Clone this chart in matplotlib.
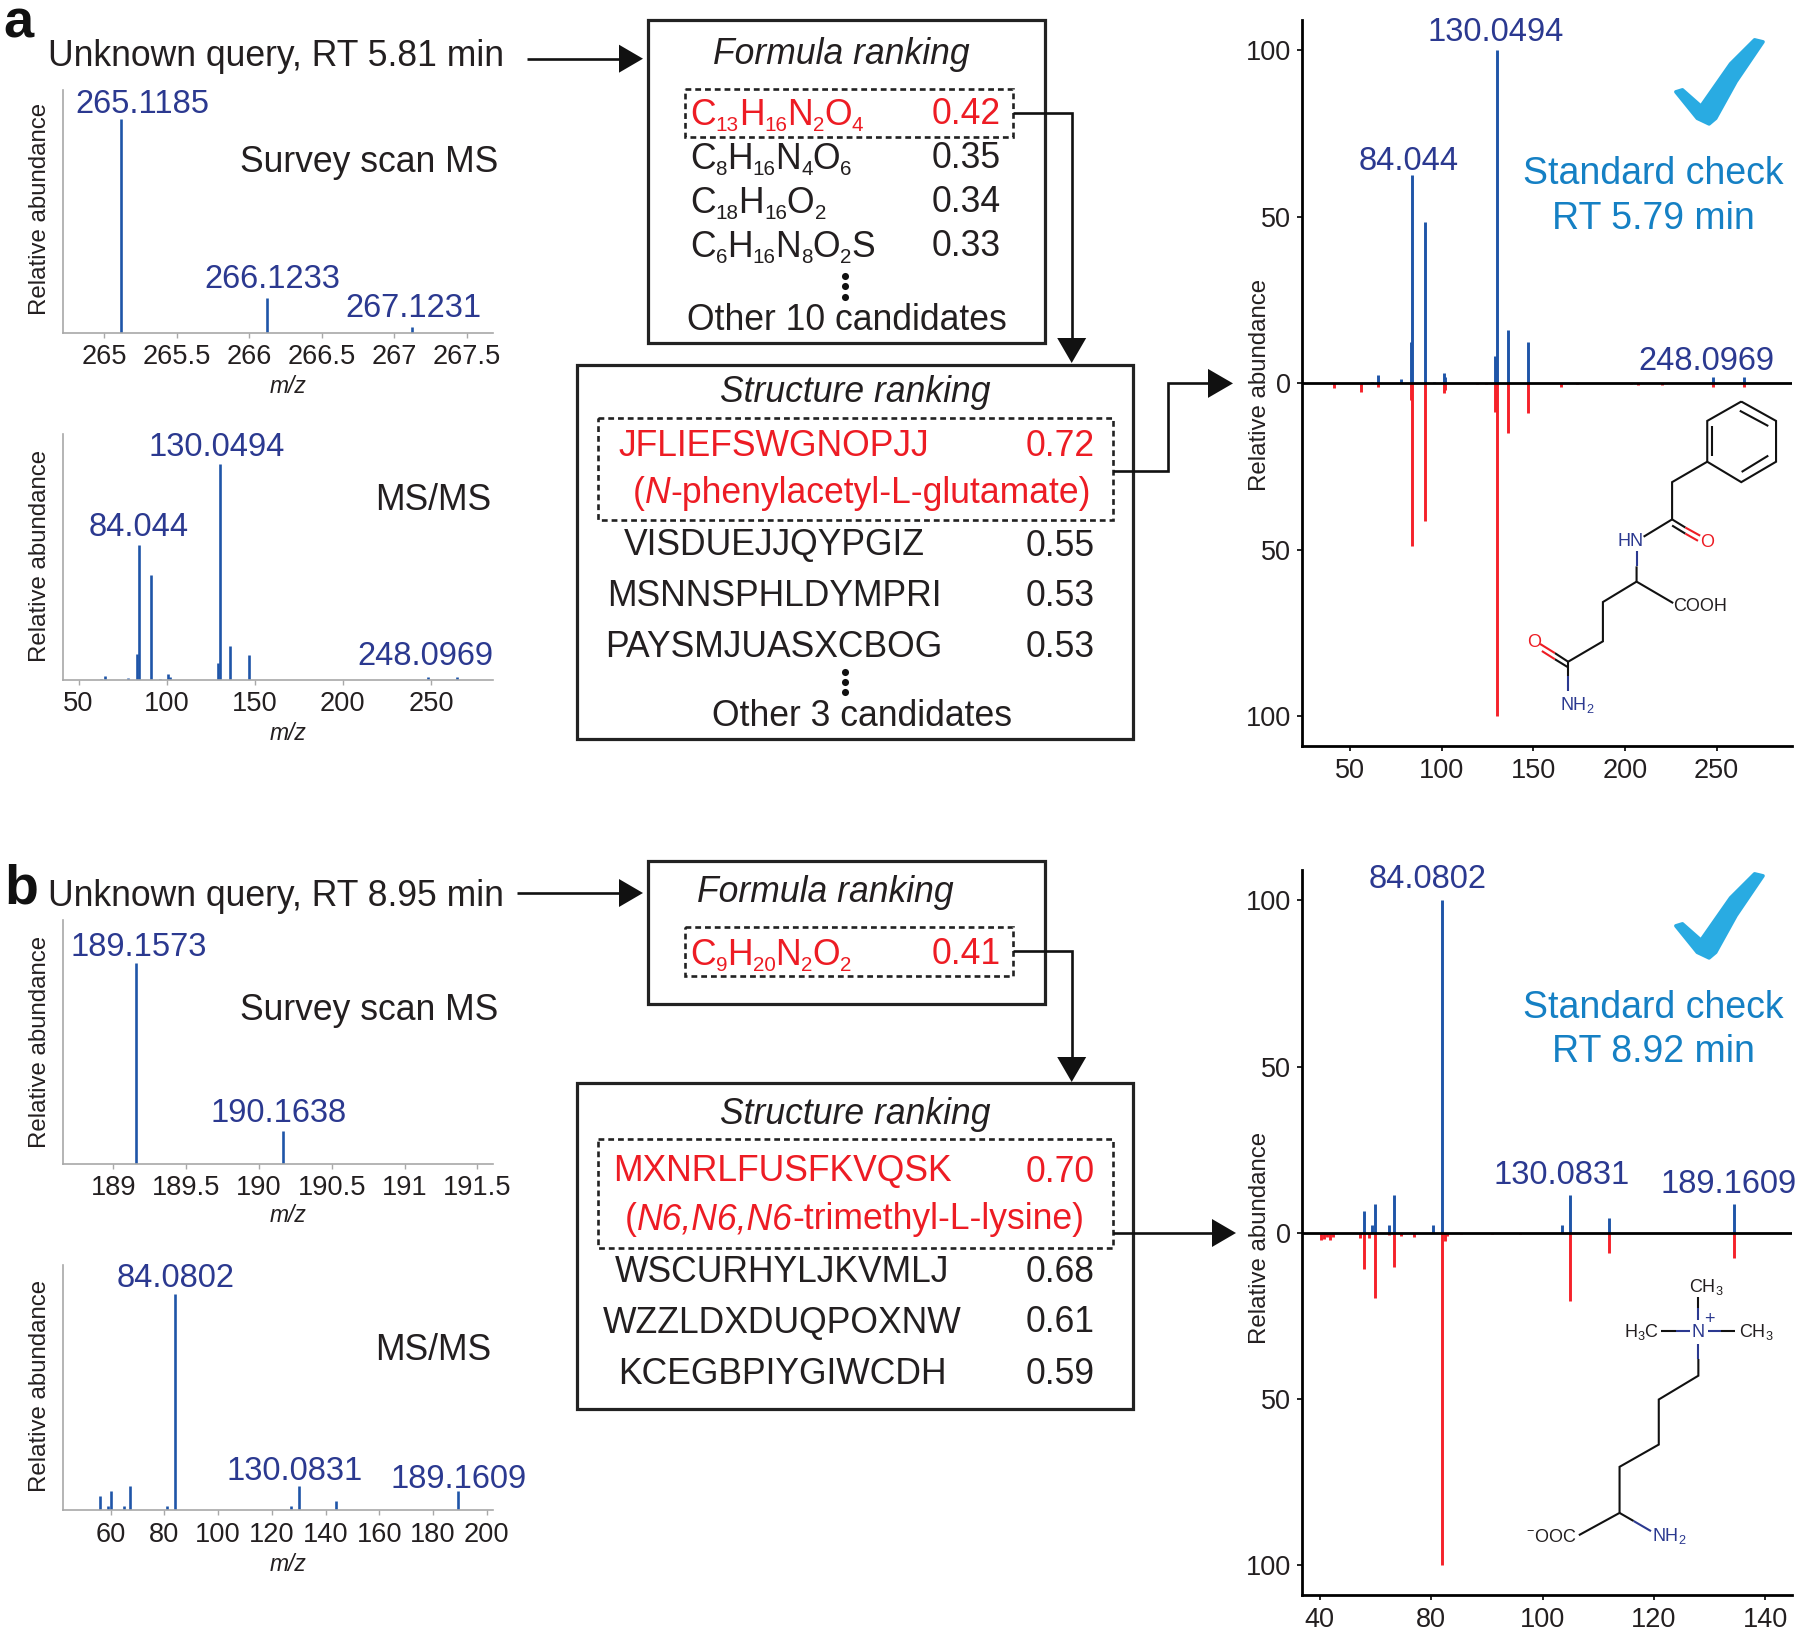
import re
import matplotlib
matplotlib.use("Agg")
import matplotlib.pyplot as plt
from matplotlib.patches import Polygon, Rectangle

plt.rcParams['font.family'] = ['Liberation Sans', 'DejaVu Sans']
plt.rcParams['mathtext.fontset'] = 'custom'
plt.rcParams['mathtext.rm'] = 'Liberation Sans'
plt.rcParams['mathtext.it'] = 'Liberation Sans:italic'
plt.rcParams['mathtext.bf'] = 'Liberation Sans:bold'

# ---------- data: panel a ----------
a_ms_mz = [265.1185, 266.1233, 267.1231]
a_ms_int = [100, 16.5, 2.6]
a_ms_ticks = [265, 265.5, 266, 266.5, 267, 267.5]
a_ms_ticklabels = ['265', '265.5', '266', '266.5', '267', '267.5']
a_ms2_mz = [62.5, 65, 78, 83, 84.044, 91, 96, 101, 102, 129, 130.0494, 136, 147, 248.0969, 265]
a_ms2_int = [0.5, 1.8, 0.7, 12, 62.4, 48.5, 0.5, 2.8, 1.6, 8, 100, 15.7, 11.8, 1.2, 1.2]
a_ms2_ticks = [50, 100, 150, 200, 250]
a_std_blue_mz = [62, 65, 78, 83, 84, 91, 96, 101, 102, 129, 130, 136, 147, 248, 265]
a_std_blue_int = [0.5, 2.5, 1.2, 12.4, 62.6, 48.5, 0.5, 3.2, 1.8, 8.2, 100, 16, 12.3, 1.8, 1.8]
a_std_red_mz = [41, 56, 65, 83, 84, 91, 101, 102, 119, 124, 129, 130, 136, 147, 165, 174, 203, 207, 220, 248, 265]
a_std_red_int = [1.3, 2.5, 1, 5, 48.7, 41.3, 3, 2, 0.3, 0.3, 8.5, 100, 15, 8.8, 1.2, 0.3, 0.3, 0.5, 0.5, 1, 1]
a_std_xticks = [50, 100, 150, 200, 250]
a_formulas = ['C13H16N2O4', 'C8H16N4O6', 'C18H16O2', 'C6H16N8O2S']
a_formula_scores = ['0.42', '0.35', '0.34', '0.33']
a_structures = ['JFLIEFSWGNOPJJ', 'VISDUEJJQYPGIZ', 'MSNNSPHLDYMPRI', 'PAYSMJUASXCBOG']
a_structure_scores = ['0.72', '0.55', '0.53', '0.53']

# ---------- data: panel b ----------
b_ms_mz = [189.1573, 190.1638]
b_ms_int = [100, 16.4]
b_ms_ticks = [189, 189.5, 190, 190.5, 191, 191.5]
b_ms_ticklabels = ['189', '189.5', '190', '190.5', '191', '191.5']
b_ms2_mz = [56, 59, 60, 65, 67, 81, 84.0802, 127, 130.0831, 144, 189.1609]
b_ms2_int = [6.8, 2.1, 8.9, 2.1, 11.2, 2.1, 100, 2.1, 11.2, 4.4, 8.9]
b_ms2_ticks = [60, 80, 100, 120, 140, 160, 180, 200]
b_std_blue_x = [67.9, 69.3, 69.9, 72.4, 73.4, 80.4, 81.9, 103.4, 104.9, 112, 134.4]
b_std_blue_int = [6.7, 2.3, 8.8, 2.3, 11.3, 2.3, 100, 2.3, 11.3, 4.4, 8.8]
b_std_red_x = [60.3, 60.8, 61.3, 61.9, 62.4, 67.3, 67.9, 68.9, 69.9, 72.4, 73.4, 74.5, 76.9,
               81.9, 82.4, 82.9, 85.4, 90.9, 96, 104.9, 112, 134.4]
b_std_red_int = [2.1, 1.8, 1.2, 2.2, 1.2, 1.5, 11, 1.5, 19.5, 0.5, 10.2, 0.8, 1.3,
                 100, 2.5, 1, 0.3, 0.3, 0.3, 20.5, 5.9, 7.4]
b_std_xticks = [60, 80, 100, 120, 140]
b_std_xticklabels = ['40', '80', '100', '120', '140']
b_formula = 'C9H20N2O2'
b_formula_score = '0.41'
b_structures = ['MXNRLFUSFKVQSK', 'WSCURHYLJKVMLJ', 'WZZLDXDUQPOXNW', 'KCEGBPIYGIWCDH']
b_structure_scores = ['0.70', '0.68', '0.61', '0.59']
std_yticks = [-100, -50, 0, 50, 100]
std_yticklabels = ['100', '50', '0', '50', '100']

W, H = 1800, 1634
BLUE, RED, NAVY, LRED = '#1F55A8', '#F5222A', '#2B3990', '#ED1C24'
SKY, CHECK, INK, GREY = '#1580C4', '#29ABE2', '#231F20', '#A8A8A8'
FS = 25.6

fig = plt.figure(figsize=(W / 100, H / 100), dpi=100, facecolor='white')


def make_ax(l, t, r, b):
    return fig.add_axes([l / W, 1 - b / H, (r - l) / W, (b - t) / H])


def survey_ax(l, t, r, b, xlim, ymax, mz, vals, ticks, labels=None):
    ax = make_ax(l, t, r, b)
    ax.vlines(mz, 0, vals, color=BLUE, lw=1.9)
    ax.set_xlim(*xlim)
    ax.set_ylim(0, ymax)
    ax.set_xticks(ticks)
    ax.set_xticklabels(labels if labels else [str(v) for v in ticks], fontsize=19.6, color=INK)
    ax.set_yticks([])
    for s in ('top', 'right'):
        ax.spines[s].set_visible(False)
    for s in ('left', 'bottom'):
        ax.spines[s].set_color(GREY)
        ax.spines[s].set_linewidth(1.2)
    ax.tick_params(axis='x', length=3.5, width=1, color=GREY, pad=4.5)
    ax.patch.set_alpha(0)
    return ax


def mirror_ax(l, t, r, b, xlim, bx, by, rx, ry, xticks, xlabels=None):
    ax = make_ax(l, t, r, b)
    ax.vlines(bx, 0, by, color=BLUE, lw=2.1)
    ax.vlines(rx, 0, [-v for v in ry], color=RED, lw=2.1)
    ax.axhline(0, color='black', lw=2.0)
    ax.set_xlim(*xlim)
    ax.set_ylim(-109, 109)
    ax.set_xticks(xticks)
    ax.set_xticklabels(xlabels if xlabels else [str(v) for v in xticks], fontsize=19.5, color=INK)
    ax.set_yticks(std_yticks)
    ax.set_yticklabels(std_yticklabels, fontsize=19.5, color=INK)
    for s in ('top', 'right'):
        ax.spines[s].set_visible(False)
    for s in ('left', 'bottom'):
        ax.spines[s].set_linewidth(2.0)
    ax.tick_params(length=3.5, width=1.2, color='black', pad=4.5)
    ax.patch.set_alpha(0)
    return ax


survey_ax(62.5, 89.5, 493, 333, (264.712, 267.679), 114, a_ms_mz, a_ms_int, a_ms_ticks, a_ms_ticklabels)
survey_ax(62.5, 434, 493, 680, (40.9, 285.2), 113.9, a_ms2_mz, a_ms2_int, a_ms2_ticks)
survey_ax(62.5, 919.5, 493, 1164, (188.652, 191.607), 121.6, b_ms_mz, b_ms_int, b_ms_ticks, b_ms_ticklabels)
survey_ax(62.5, 1265.3, 493, 1510.4, (42.06, 202.3), 113.5, b_ms2_mz, b_ms2_int, b_ms2_ticks)
mirror_ax(1302, 20.4, 1791.6, 746.4, (23.7, 290.9), a_std_blue_mz, a_std_blue_int,
          a_std_red_mz, a_std_red_int, a_std_xticks)
mirror_ax(1302, 870.4, 1791.6, 1595.4, (56.8, 144.7), b_std_blue_x, b_std_blue_int,
          b_std_red_x, b_std_red_int, b_std_xticks, b_std_xticklabels)

# overlay in pixel coordinates for the workflow annotations
ov = fig.add_axes([0, 0, 1, 1], zorder=10)
ov.set_xlim(0, W)
ov.set_ylim(H, 0)
ov.axis('off')
ov.patch.set_alpha(0)
renderer = fig.canvas.get_renderer()


def T(x, y, s, size=FS, color=INK, ha='center', **kw):
    ov.text(x, y + 3, s, fontsize=size, color=color, ha=ha, va='center', **kw)


def rich(x, baseline, pieces, color, ha='left', size=FS):
    """Draw pieces (text, style, is_subscript) one after another on one baseline."""
    arts = []
    for s, style, sub in pieces:
        fs = size * 0.58 if sub else size
        yy = baseline + (6 if sub else 0)
        arts.append(ov.text(0, yy, s, fontsize=fs, color=color, fontstyle=style,
                            ha='left', va='baseline'))
    widths = []
    for art, (s, style, sub) in zip(arts, pieces):
        # spaces and side bearings: measure with a bar on each side
        probe = ov.text(0, 0, '|' + s + '|', fontsize=art.get_fontsize(), fontstyle=style)
        bar = ov.text(0, 0, '||', fontsize=art.get_fontsize(), fontstyle=style)
        widths.append(probe.get_window_extent(renderer).width - bar.get_window_extent(renderer).width)
        probe.remove()
        bar.remove()
    total = sum(widths)
    cur = x if ha == 'left' else x - total / 2
    for art, w in zip(arts, widths):
        art.set_x(cur)
        cur += w


def formula(x, y, f, color):
    pieces = [(tok, 'normal', tok.isdigit()) for tok in re.findall(r'[A-Z]|\d+', f)]
    rich(x, y + 12, pieces, color)


def box(x0, y0, x1, y1, dashed=False):
    if dashed:
        ov.add_patch(Rectangle((x0, y0), x1 - x0, y1 - y0, fill=False, ec='#222222', lw=1.9,
                               ls=(0, (2.2, 1.5))))
    else:
        ov.add_patch(Rectangle((x0, y0), x1 - x0, y1 - y0, fill=False, ec='#222222', lw=2.3))


def line(pts, color='#111111', lw=1.9):
    ov.plot([p[0] for p in pts], [p[1] for p in pts], color=color, lw=lw,
            solid_capstyle='butt', solid_joinstyle='miter')


def head(tip, direction, length=25, half=14.5):
    x, y = tip
    if direction == 'right':
        pts = [(x, y), (x - length, y - half), (x - length, y + half)]
    else:
        pts = [(x, y), (x - half, y - length), (x + half, y - length)]
    ov.add_patch(Polygon(pts, closed=True, fc='#111111', ec='none'))


def dots(x, ys):
    ov.scatter([x] * len(ys), ys, s=26, color='#111111', linewidths=0)


def check(dy):
    z = [(1232, 180), (1250, 176), (1300, 208), (1380, 125), (1445, 78), (1468, 82),
         (1395, 160), (1340, 232), (1322, 243), (1290, 232)]
    ov.add_patch(Polygon([(1220 + a / 2.703, a2 / 1.96 + dy) for a, a2 in z], closed=True,
                         fc=CHECK, ec=CHECK, lw=2.5, joinstyle='round'))


RA = 17.3
# panel letters and queries
T(18, 20, 'a', 39, '#111111', fontweight='bold')
T(21, 886, 'b', 40, '#111111', fontweight='bold')
T(48, 53, 'Unknown query, RT 5.81 min', FS, ha='left')
T(48, 893, 'Unknown query, RT 8.95 min', FS, ha='left')

# left column annotations
for y in (209, 556, 1042, 1386):
    T(40.5, y - 3, 'Relative abundance', RA, rotation=90)
for y in (383, 730, 1212, 1561.5):
    T(288, y, 'm/z', 16.5, fontstyle='italic')
T(369, 159, 'Survey scan MS', FS)
T(369, 1008, 'Survey scan MS', FS)
T(432.7, 497.5, 'MS/MS', FS)
T(432.7, 1348, 'MS/MS', FS)
for x, y, s in [(142, 101, '265.1185'), (272, 276, '266.1233'), (413, 305, '267.1231'),
                (217, 444, '130.0494'), (139, 524, '84.044'), (425, 653, '248.0969'),
                (139, 944, '189.1573'), (279, 1110, '190.1638'),
                (176, 1275.5, '84.0802'), (294.6, 1468, '130.0831'), (459, 1476, '189.1609'),
                (1496, 29, '130.0494'), (1409, 158, '84.044'), (1706, 358.7, '248.0969'),
                (1428, 876.5, '84.0802'), (1562, 1172.7, '130.0831'), (1729, 1181.8, '189.1609')]:
    T(x, y, s, 23.5, NAVY)

# right column annotations
T(1259.5, 382, 'Relative abundance', RA, rotation=90)
T(1259.5, 1235, 'Relative abundance', RA, rotation=90)
T(1653, 171, 'Standard check', 27, SKY)
T(1653, 216, 'RT 5.79 min', 27, SKY)
T(1653, 1005, 'Standard check', 27, SKY)
T(1653, 1049, 'RT 8.92 min', 27, SKY)
check(0)
check(834)

# panel a boxes
box(648, 20, 1045, 343)
box(685.3, 88.7, 1013, 136.7, True)
box(577.3, 365, 1133, 738.7)
box(597.7, 417.8, 1113, 520, True)
T(841.5, 51, 'Formula ranking', FS, fontstyle='italic')
for i, y in enumerate((113, 157, 201, 245)):
    c = LRED if i == 0 else INK
    formula(690, y, a_formulas[i], c)
    T(932, y - 2 + (0.5 if i else 0), a_formula_scores[i], FS, c, ha='left')
dots(845, (275.5, 286, 297))
T(847, 317, 'Other 10 candidates', FS)
T(855, 389, 'Structure ranking', FS, fontstyle='italic')
for i, y in enumerate((443, 543, 593.5, 644)):
    c = LRED if i == 0 else INK
    T(774, y, a_structures[i], FS, c)
    T(1095, y, a_structure_scores[i], FS, c, ha='right')
rich(862, 503, [('(', 'normal', False), ('N', 'italic', False),
                ('-phenylacetyl-L-glutamate)', 'normal', False)], LRED, ha='center')
dots(845, (672, 682, 692))
T(862, 713, 'Other 3 candidates', FS)

# panel b boxes
box(648, 861, 1045, 1004)
box(685.3, 926.5, 1013, 976, True)
box(577.3, 1082.5, 1133, 1408.6)
box(597.7, 1139, 1113, 1248, True)
T(825.6, 889, 'Formula ranking', FS, fontstyle='italic')
formula(690, 953, b_formula, LRED)
T(932, 951, b_formula_score, FS, LRED, ha='left')
T(855, 1112, 'Structure ranking', FS, fontstyle='italic')
for i, y in enumerate((1169, 1270, 1320, 1371)):
    c = LRED if i == 0 else INK
    T(782, y, b_structures[i], FS, c)
    T(1095, y, b_structure_scores[i], FS, c, ha='right')
rich(855, 1229, [('(', 'normal', False), ('N6,N6,N6', 'italic', False),
                 ('-trimethyl-L-lysine)', 'normal', False)], LRED, ha='center')

# arrows, panel a
line([(527, 58.7), (620, 58.7)])
head((643, 58.7), 'right', 24, 14)
line([(1013, 112.5), (1071.7, 112.5), (1071.7, 340)])
head((1071.7, 363), 'down', 25, 14.5)
line([(1113, 471), (1168, 471), (1168, 383.4), (1210, 383.4)])
head((1233, 383.4), 'right', 25, 14.5)
# arrows, panel b
line([(517, 893), (620, 893)])
head((643, 893), 'right', 24, 14)
line([(1013, 950.5), (1071.7, 950.5), (1071.7, 1060)])
head((1071.7, 1082), 'down', 25, 14.5)
line([(1113, 1233), (1215, 1233)])
head((1236, 1233), 'right', 24, 14)


# structure drawings (zoom coordinates mapped to the page)
def pa(z):
    return (1220 + z[0] / 2.703, z[1] / 1.96)


def pb(z):
    return (1220 + z[0] / 2.703, 840 + z[1] / 1.975)


def bond(f, pts, color='#111111', lw=1.5):
    line([f(p) for p in pts], color, lw)


def label(f, z, s, color='#231F20', size=13):
    x, y = f(z)
    T(x, y - 2, s, size, color)


bond(pa, [(1409, 787), (1503, 825), (1503, 905), (1409, 945), (1317, 905), (1317, 825), (1409, 787)])
bond(pa, [(1405, 805), (1482, 835)])
bond(pa, [(1482, 893), (1410, 925)])
bond(pa, [(1331, 835), (1331, 893)])
bond(pa, [(1317, 905), (1222, 945), (1222, 1018), (1145, 1052)])
bond(pa, [(1222, 1018), (1258, 1034)])
bond(pa, [(1258, 1034), (1298, 1050)], LRED)
bond(pa, [(1222, 1030), (1258, 1046)])
bond(pa, [(1258, 1046), (1292, 1060)], LRED)
bond(pa, [(1126, 1080), (1126, 1110)], NAVY)
bond(pa, [(1126, 1110), (1126, 1140), (1225, 1182)])
bond(pa, [(1126, 1140), (1035, 1180), (1035, 1257), (941, 1297)])
bond(pa, [(941, 1297), (905, 1280)])
bond(pa, [(905, 1280), (865, 1262)], LRED)
bond(pa, [(941, 1308), (905, 1292)])
bond(pa, [(905, 1292), (870, 1276)], LRED)
bond(pa, [(941, 1297), (941, 1325)])
bond(pa, [(941, 1325), (941, 1355)], NAVY)
label(pa, (1110, 1060), 'HN', NAVY)
label(pa, (1316, 1062), 'O', LRED)
label(pa, (1298, 1187), 'COOH')
label(pa, (848, 1258), 'O', LRED)
label(pa, (965, 1380), r'NH$_{2}$', NAVY)

bond(pb, [(1293, 902), (1293, 925)])
bond(pb, [(1293, 925), (1293, 948)], NAVY)
bond(pb, [(1193, 970), (1232, 970)])
bond(pb, [(1232, 970), (1270, 970)], NAVY)
bond(pb, [(1320, 970), (1355, 970)], NAVY)
bond(pb, [(1355, 970), (1392, 970)])
bond(pb, [(1293, 995), (1293, 1025)], NAVY)
bond(pb, [(1293, 1025), (1293, 1058), (1186, 1105), (1186, 1194), (1080, 1238), (1080, 1329), (970, 1373)])
bond(pb, [(1080, 1329), (1118, 1345)])
bond(pb, [(1118, 1345), (1165, 1365)], NAVY)
label(pb, (1315, 880), r'CH$_{3}$')
label(pb, (1140, 970), r'H$_{3}$C')
label(pb, (1450, 970), r'CH$_{3}$')
label(pb, (1293, 970), 'N', NAVY)
label(pb, (1322, 945), '+', NAVY)
label(pb, (895, 1375), r'$^{-}$OOC')
label(pb, (1215, 1373), r'NH$_{2}$', NAVY)

fig.savefig('out.png', dpi=100, facecolor='white')
